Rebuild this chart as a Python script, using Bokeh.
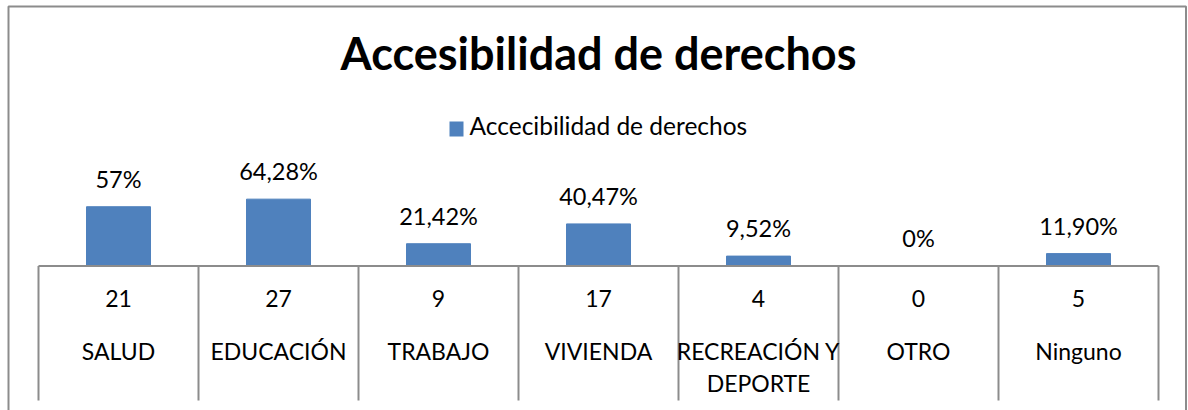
from bokeh.plotting import figure
from bokeh.models import Range1d, ColumnDataSource
from bokeh.core.properties import value
from bokeh.embed import file_html
from bokeh.resources import INLINE
import numpy as np

# ---- data ----
title_text = "Accesibilidad de derechos"
series_name = "Accecibilidad de derechos"
categories = ["SALUD", "EDUCACIÓN", "TRABAJO", "VIVIENDA", "RECREACIÓN Y DEPORTE", "OTRO", "Ninguno"]
percent_values = [57, 64.28, 21.42, 40.47, 9.52, 0, 11.90]
percent_labels = ["57%", "64,28%", "21,42%", "40,47%", "9,52%", "0%", "11,90%"]
counts = [21, 27, 9, 17, 4, 0, 5]

# ---- layout constants (pixels) ----
W, H = 1188, 410
CELL = 160.0          # px per category
LEFT = 38.0           # px of the first category boundary
AXIS_Y = 265.5        # px (from top) of the category axis line
PXU = 1.04            # px per percent unit
FONT = "Lato"
BLUE = "#4F81BD"
GRAY = "#8C8C8C"
FIX = 0.43            # baseline correction, in em

n = len(categories)
idx = np.arange(n)
x0 = (0 - (LEFT + CELL / 2)) / CELL
x1 = (W - (LEFT + CELL / 2)) / CELL
y0 = -(H - AXIS_Y) / PXU
y1 = AXIS_Y / PXU

def px(xp):
    return (xp - (LEFT + CELL / 2)) / CELL

def py(yp):
    return (AXIS_Y - yp) / PXU

def tb(yp, fs):
    """data y for a text whose visual baseline is at pixel yp"""
    return py(yp - FIX * fs)

p = figure(width=W, height=H, output_backend="svg", toolbar_location=None,
           x_range=Range1d(x0, x1), y_range=Range1d(y0, y1),
           x_axis_location=None, y_axis_location=None, min_border=0,
           outline_line_color=None, background_fill_color="white")
p.grid.visible = False

# outer chart border
p.multi_line(xs=[[px(8), px(8), px(1185.5), px(1185.5)]],
             ys=[[py(H + 5), py(6), py(6), py(H + 5)]],
             line_color=GRAY, line_width=2)

# bars
src = ColumnDataSource(dict(x=idx, top=percent_values))
p.vbar(x="x", top="top", width=64 / CELL, bottom=0, source=src,
       fill_color=BLUE, line_color=BLUE)

# percent labels above bars
FS_P = 23.5
src_lab = ColumnDataSource(dict(x=idx,
                                y=[v + (17.7 + FIX * FS_P) / PXU for v in percent_values],
                                lab=percent_labels))
p.text(x="x", y="y", text="lab", source=src_lab, text_font=value(FONT),
       text_font_size=f"{FS_P}px", text_align="center", text_baseline="alphabetic",
       text_color="black")

# data table: axis line and vertical separators
bounds = np.arange(n + 1) - 0.5
p.segment(x0=[bounds[0]], y0=[0], x1=[bounds[-1]], y1=[0], line_color=GRAY, line_width=2)
p.segment(x0=bounds, y0=[0] * (n + 1), x1=bounds, y1=[py(400)] * (n + 1),
          line_color=GRAY, line_width=2)

# counts row
FS_T = 23
p.text(x=idx, y=[tb(308.3, FS_T)] * n, text=[str(c) for c in counts], text_font=value(FONT),
       text_font_size=f"{FS_T}px", text_align="center", text_baseline="alphabetic",
       text_color="black")

# category names (wrapped when wider than a cell)
cx, cy, ct = [], [], []
for i, name in enumerate(categories):
    lines = name.rsplit(" ", 1) if len(name) > 12 else [name]
    for k, line in enumerate(lines):
        cx.append(i)
        cy.append(tb(360.5 + 31.5 * k, FS_T))
        ct.append(line)
p.text(x=cx, y=cy, text=ct, text_font=value(FONT), text_font_size=f"{FS_T}px",
       text_align="center", text_baseline="alphabetic", text_color="black")

# title
FS_TITLE = 45
p.text(x=[px(598)], y=[tb(72, FS_TITLE)], text=[title_text], text_font=value(FONT),
       text_font_size=f"{FS_TITLE}px", text_font_style="bold", text_align="center",
       text_baseline="alphabetic", text_color="black")

# legend
FS_L = 24.5
p.rect(x=[px(456)], y=[py(128.5)], width=14, height=15, width_units="screen",
       height_units="screen", fill_color=BLUE, line_color=None)
p.text(x=[px(469)], y=[tb(136, FS_L)], text=[series_name], text_font=value(FONT),
       text_font_size=f"{FS_L}px", text_align="left", text_baseline="alphabetic",
       text_color="black")

open("out.html", "w").write(file_html(p, INLINE))
